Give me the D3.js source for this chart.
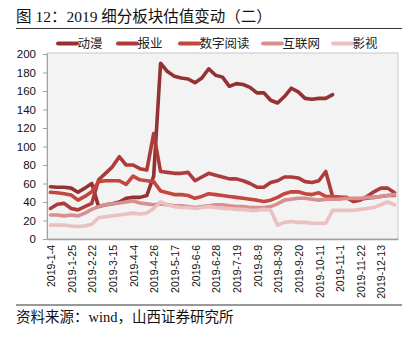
<!DOCTYPE html>
<html><head><meta charset="utf-8">
<script src="https://cdn.jsdelivr.net/npm/d3@7"></script>
<style>
body{margin:0;background:#fff;}
svg{display:block;}
</style></head>
<body>
<svg id="c" width="415" height="338"></svg>
<script>
const dates = ["2019-1-4","2019-1-11","2019-1-18","2019-1-25","2019-2-1","2019-2-15","2019-2-22","2019-3-1","2019-3-8","2019-3-15","2019-3-22","2019-3-29","2019-4-4","2019-4-12","2019-4-19","2019-4-26","2019-4-30","2019-5-10","2019-5-17","2019-5-24","2019-5-31","2019-6-6","2019-6-14","2019-6-21","2019-6-28","2019-7-5","2019-7-12","2019-7-19","2019-7-26","2019-8-2","2019-8-9","2019-8-16","2019-8-23","2019-8-30","2019-9-6","2019-9-12","2019-9-20","2019-9-27","2019-9-30","2019-10-11","2019-10-18","2019-10-25","2019-11-1","2019-11-8","2019-11-15","2019-11-22","2019-11-29","2019-12-6","2019-12-13","2019-12-20","2019-12-27"];
const tickLabels = ["2019-1-4","2019-1-25","2019-2-22","2019-3-15","2019-4-4","2019-4-26","2019-5-17","2019-6-6","2019-6-28","2019-7-19","2019-8-9","2019-8-30","2019-9-20","2019-10-11","2019-11-1","2019-11-22","2019-12-13"];
const yTicks = [0,20,40,60,80,100,120,140,160,180,200];
const seriesNames = ["动漫","报业","数字阅读","互联网","影视"];
const dongman = [56.5,56,56,55,50.5,55,60,35,37,38,40,44,45,45,47,68,190,181,176,174,173,169,174,184,177,175,165,168,167,164,158,158,150,147,154,163,159,152,151,152,152,156,null,null,null,null,null,null,null,null,null];
const baoye = [33,37.5,38.5,33,31.5,35,38.5,64,71,78,89,80,80,76,74.5,114,73,72,71,71,72,63,67,71,69,67,65,65,63,60,56,56,61,63,67,67,66,62,61,63,73,46,45,45,40.5,42,46,51,55,55,50];
const shuzi = [50.5,50,49,47.5,42,46,51,62,63,63,63,59,68,64,63,62,52,50,48,48,47,44,46,49,48,47,46,45,44,43,42,40.5,42,45,49,51,51,49,48,50,46,46,45,44,43,43,44,45,46,47,47];
const hulian = [26,26,25,26,25,28,32,35,37,38,39,40,41,39,38,37,38,37,36,36,35,34,35,36,37,37,36,35,35,34,34,34,35,38,42,43,44,44,43,42,43,43,43,44,44,44,45,45,46,47,48];
const yingshi = [15,15,15,14,13.5,14,16,23,24,25,26,27,28,27,28,33,40,37,35,34,34,33,34,35,34,33,33,32,32,31,31,32,31,15,18,19,18,18,17,17,17,31,31,31,31,32,33,34,37,40,37];
const colors = ["#943232","#AD3B3B","#C4473F","#D88F8F","#EBC0C0"];
const allSeries = [dongman,baoye,shuzi,hulian,yingshi];

const svg = d3.select("#c");
const cjk = "'Liberation Serif','Noto Sans CJK SC',serif";

// title
svg.append("text").attr("x",16).attr("y",22).attr("font-family",cjk).attr("font-size",15.5).attr("fill","#111")
  .text("图 12：2019 细分板块估值变动（二）");
svg.append("line").attr("x1",16).attr("x2",402).attr("y1",28.5).attr("y2",28.5).attr("stroke","#333").attr("stroke-width",1);

// plot area
const L=47,R=398,T=54,B=239;
svg.append("rect").attr("x",L).attr("y",T-1).attr("width",R-L).attr("height",B-T+1).attr("fill","#F3F3F3").attr("stroke","#C8C8C8").attr("stroke-width",1);

const x = d3.scaleBand().domain(dates).range([L,R]).padding(0);
const y = d3.scaleLinear().domain([0,200]).range([B,T]);
const xc = d => x(d)+x.bandwidth()/2;

// y axis
const yAx = svg.append("g").attr("transform",`translate(${L},0)`)
  .call(d3.axisLeft(y).tickValues(yTicks).tickSize(4).tickPadding(7));
yAx.select(".domain").attr("stroke","#A0A0A0");
yAx.selectAll(".tick line").attr("stroke","#A0A0A0");
yAx.selectAll("text").attr("font-family","'Liberation Sans',Arial,sans-serif").attr("font-size",11.5).attr("fill","#111");

// x axis
const xAx = svg.append("g").attr("transform",`translate(0,${B})`)
  .call(d3.axisBottom(x).tickValues(tickLabels).tickSize(0).tickPadding(0));
xAx.select(".domain").attr("stroke","#A0A0A0").attr("stroke-width",1.5);
xAx.selectAll("text").attr("font-family","'Liberation Sans',Arial,sans-serif").attr("font-size",10.5).attr("fill","#111")
  .attr("transform","rotate(-90)").attr("text-anchor","end").attr("x",-6).attr("y",1).attr("dy","0.35em");

// lines
const line = d3.line().defined(d=>d.v!=null).x(d=>xc(d.d)).y(d=>y(d.v));
allSeries.forEach((s,k)=>{
  svg.append("path").datum(dates.map((d,i)=>({d:d,v:s[i]})))
    .attr("d",line).attr("fill","none").attr("stroke",colors[k]).attr("stroke-width",3.6)
    .attr("stroke-linejoin","round").attr("stroke-linecap","round");
});

// legend
const legX = [58,118,180,263,333];
seriesNames.forEach((n,k)=>{
  svg.append("line").attr("x1",legX[k]).attr("x2",legX[k]+19).attr("y1",43.5).attr("y2",43.5)
    .attr("stroke",colors[k]).attr("stroke-width",4).attr("stroke-linecap","round");
  svg.append("text").attr("x",legX[k]+19.5).attr("y",48).attr("font-family",cjk).attr("font-size",12.5).attr("fill","#222").text(n);
});

// footer
svg.append("line").attr("x1",16).attr("x2",402).attr("y1",305).attr("y2",305).attr("stroke","#333").attr("stroke-width",1);
svg.append("text").attr("x",16).attr("y",322).attr("font-family",cjk).attr("font-size",14.5).attr("fill","#111")
  .text("资料来源：wind，山西证券研究所");
</script>
</body></html>
